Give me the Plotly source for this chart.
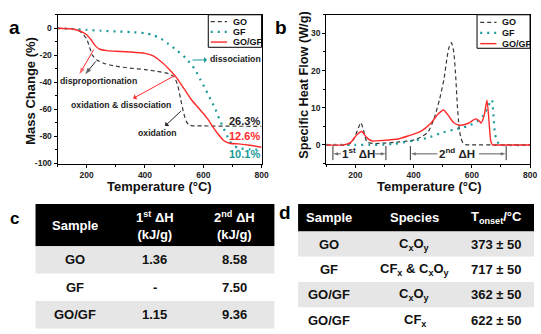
import plotly.graph_objects as go

W, H = 541, 334
FONT = "Arial, Liberation Sans, sans-serif"
C_GO = "#383838"
C_GF = "#1c9a9a"
C_GOGF = "#ff2a2a"

# ---------------- Panel a: TGA mass change ----------------
a_go_T = [100, 150, 175, 190, 200, 210, 220, 235, 260, 300, 350, 400, 440, 480, 500, 512, 522, 532, 542, 552, 565, 600, 700, 800]
a_go_M = [0, -0.5, -2, -5, -8, -14, -20, -23.5, -26, -28, -29.5, -30.5, -31.8, -33.5, -36, -42, -52, -62, -69, -71.6, -72.1, -72.2, -72.4, -72.5]

a_gf_T = [100, 150, 200, 250, 300, 350, 400, 425, 450, 480, 510, 540, 570, 590, 610, 625, 640, 655, 670, 685, 700, 720, 760, 800]
a_gf_M = [0, -0.5, -1.2, -1.8, -2.3, -2.8, -3.6, -5, -7, -11.5, -16.5, -22, -30, -38, -46, -52.5, -59, -67, -74, -81, -86, -88.5, -89.5, -90]

a_gogf_T = [100, 150, 175, 200, 215, 230, 245, 270, 300, 350, 400, 430, 460, 490, 510, 535, 560, 580, 600, 615, 630, 650, 670, 690, 720, 760, 800]
a_gogf_M = [0, -0.5, -1.8, -4.8, -8.5, -13, -15.5, -16.5, -17, -17.5, -18.5, -20.5, -25.5, -32, -37, -45, -53, -58, -63, -67, -72, -78, -83, -85, -85.5, -86.5, -88]

a_yticks = [-100, -80, -60, -40, -20, 0]
a_yticklabels = ["-100", "-80", "-60", "-40", "-20", "0"]

# ---------------- Panel b: DSC heat flow ----------------
b_go_T = [100, 170, 185, 200, 210, 219, 228, 240, 260, 300, 350, 400, 430, 450, 470, 490, 505, 515, 522, 530, 538, 545, 550, 556, 562, 570, 580, 600, 700, 800]
b_go_H = [0, 0, 0.5, 2.5, 4.5, 6, 4, 0.8, 0.4, 0.5, 0.8, 1.3, 2.3, 3.5, 7, 12.5, 18, 23.5, 26.3, 27.5, 25, 18, 11, 5, 2, 0.5, 0.1, 0, 0, 0]

b_gf_T = [100, 200, 250, 300, 336, 403, 448, 494, 539, 584, 618, 641, 658, 669, 675, 680, 692, 700, 800]
b_gf_H = [0, 0, 0, 0.1, 0.3, 1.2, 1.9, 3.2, 4.1, 5, 6.3, 8, 10.7, 12.2, 7.2, 2.8, 0.3, 0, 0]

b_gogf_T = [100, 160, 183, 206, 222, 240, 257, 290, 347, 381, 426, 460, 482, 503, 522, 539, 562, 590, 613, 625, 632, 643, 652, 660, 665, 671, 700, 800]
b_gogf_H = [0, 0, 0.6, 2.8, 3.6, 1.9, 1.05, 1.2, 1.6, 2.4, 3.7, 5.9, 8.1, 9.4, 7.6, 5.9, 5.3, 5.9, 7.0, 6.5, 5.9, 8.1, 12, 5.4, 1.05, 0, 0, 0]

# enthalpy integration windows (degC)
dh1_range = [123, 305]
dh2_range = [389, 718]

series_names = ["GO", "GF", "GO/GF"]
residues = ["26.3%", "12.6%", "10.1%"]

# ---------------- Tables ----------------
tc_header = ["Sample", "1<sup>st</sup> ΔH<br>(kJ/g)", "2<sup>nd</sup> ΔH<br>(kJ/g)"]
tc_sample = ["GO", "GF", "GO/GF"]
tc_dh1 = ["1.36", "-", "1.15"]
tc_dh2 = ["8.58", "7.50", "9.36"]

td_header = ["Sample", "Species", "T<sub>onset</sub>/°C"]
td_sample = ["GO", "GF", "GO/GF", "GO/GF"]
td_species = ["C<sub>x</sub>O<sub>y</sub>", "CF<sub>x</sub> &amp; C<sub>x</sub>O<sub>y</sub>", "C<sub>x</sub>O<sub>y</sub>", "CF<sub>x</sub>"]
td_tonset = ["373 ± 50", "717 ± 50", "362 ± 50", "622 ± 50"]


def px(x):
    return x / W


def py(y):
    return 1 - y / H


styles = {
    "GO": dict(color=C_GO, width=1.2, dash="4px,3px"),
    "GF": dict(color=C_GF, width=2.2, dash="2px,5px"),
    "GO/GF": dict(color=C_GOGF, width=1.4, dash="solid"),
}

fig = go.Figure()
for name, T, M in [("GO", a_go_T, a_go_M), ("GF", a_gf_T, a_gf_M), ("GO/GF", a_gogf_T, a_gogf_M)]:
    fig.add_trace(go.Scatter(x=T, y=M, mode="lines", name=name, line=dict(shape="spline", smoothing=0.6, **styles[name]),
                             xaxis="x", yaxis="y", showlegend=False))
for name, T, Hh in [("GO", b_go_T, b_go_H), ("GF", b_gf_T, b_gf_H), ("GO/GF", b_gogf_T, b_gogf_H)]:
    fig.add_trace(go.Scatter(x=T, y=Hh, mode="lines", name=name, line=dict(shape="spline", smoothing=0.6, **styles[name]),
                             xaxis="x2", yaxis="y2", showlegend=False))

axis_common = dict(showline=True, linecolor="black", linewidth=1, mirror=True, showgrid=False, zeroline=False,
                   ticks="outside", ticklen=3, tickcolor="black",
                   tickfont=dict(family=FONT, size=8.5, color="#222", weight="bold"))

fig.update_layout(
    width=W, height=H, autosize=False, margin=dict(l=0, r=0, t=0, b=0),
    paper_bgcolor="white", plot_bgcolor="white", showlegend=False,
    xaxis=dict(domain=[px(58.3), px(265)], range=[100, 800], dtick=200, tick0=0, anchor="y",
               minor=dict(ticks="outside", ticklen=2, dtick=100, tickcolor="black"), **axis_common),
    yaxis=dict(domain=[py(166), py(15)], range=[-100, 10], tickvals=a_yticks, ticktext=a_yticklabels, anchor="x",
               minor=dict(ticks="outside", ticklen=2, dtick=10, tickcolor="black"), **axis_common),
    xaxis2=dict(domain=[px(330.5), px(537)], range=[100, 800], dtick=200, tick0=0, anchor="y2",
                minor=dict(ticks="outside", ticklen=2, dtick=100, tickcolor="black"), **axis_common),
    yaxis2=dict(domain=[py(166), py(15)], range=[-5, 35], dtick=10, tick0=0, anchor="x2",
                minor=dict(ticks="outside", ticklen=2, dtick=5, tickcolor="black"), **axis_common),
)

ann = []
shapes = []


def ptext(x, y, text, size, color="#111", angle=0, xanchor="center"):
    ann.append(dict(x=px(x), y=py(y), xref="paper", yref="paper", text=text, showarrow=False, textangle=angle,
                    font=dict(family=FONT, size=size, color=color, weight="bold"), xanchor=xanchor, yanchor="middle"))


# panel labels
ptext(15, 28, "a", 19, "black")
ptext(285, 28, "b", 19, "black")
ptext(15, 222, "c", 17, "black")
ptext(289, 216, "d", 19, "black")

# axis titles
ptext(162, 189, "Temperature (°C)", 13)
ptext(435, 189, "Temperature (°C)", 13)
ptext(31.5, 92, "Mass Change (%)", 13, angle=-90)
ptext(308, 87, "Specific Heat Flow (W/g)", 12.7, angle=-90)


def legend_box(x0, y0, x1, y1, rows, lx0, lx1, tx):
    shapes.append(dict(type="rect", xref="paper", yref="paper", x0=px(x0), x1=px(x1), y0=py(y0), y1=py(y1),
                       line=dict(color="black", width=1), fillcolor="white", layer="above"))
    for name, yy in zip(series_names, rows):
        st = styles[name]
        shapes.append(dict(type="line", xref="paper", yref="paper", x0=px(lx0), x1=px(lx1), y0=py(yy), y1=py(yy),
                           line=dict(color=st["color"], width=st["width"], dash=st["dash"]), layer="above"))
        ptext(tx, yy, name, 9, xanchor="left")


legend_box(211, 15, 265, 48, [22, 32.3, 42.7], 213.5, 230, 234)
legend_box(483.3, 15, 537, 49, [22.7, 33.3, 44.3], 486.5, 503, 506.5)


def text_a(x, y, text, color="#222", size=8.7, xanchor="center"):
    ann.append(dict(x=x, y=y, xref="x", yref="y", text=text, showarrow=False, xanchor=xanchor, yanchor="middle",
                    font=dict(family=FONT, size=size, color=color, weight="bold")))


def text_arrow(tx, ty, x, y, text, color):
    # text at (tx, ty); arrow runs from the curve point (x, y) to the text, head at the text side
    ann.append(dict(x=x, y=y, ax=tx, ay=ty, xref="x", yref="y", axref="x", ayref="y", text=text, showarrow=True,
                    arrowside="start", arrowhead=2, arrowsize=1.1, arrowwidth=1, arrowcolor=color,
                    standoff=0, startstandoff=1, font=dict(family=FONT, size=8.7, color="#222", weight="bold")))


def arrow_trace(xs, ys, color, xa="x", ya="y", size=7, width=1):
    fig.add_trace(go.Scatter(x=xs, y=ys, mode="lines+markers", xaxis=xa, yaxis=ya, showlegend=False, hoverinfo="skip",
                             line=dict(color=color, width=width),
                             marker=dict(symbol="arrow", angleref="previous", size=[0, size], color=color,
                                         line=dict(width=0))))


text_a(241, -39, "disproportionation")
text_arrow(316, -57, 501, -35.1, "oxidation &amp; dissociation", C_GOGF)
text_arrow(443, -77.5, 523, -61.3, "oxidation", "#222")
text_arrow(709, -23, 563, -23.5, "dissociation", C_GF)
text_a(800, -68.5, residues[0], color="#222", size=11, xanchor="right")
text_a(800, -80, residues[1], color=C_GOGF, size=11, xanchor="right")
text_a(800, -93, residues[2], color=C_GF, size=11, xanchor="right")

arrow_trace([224, 175], [-15.8, -34.0], C_GOGF)
arrow_trace([231, 195], [-24.5, -34.0], "#222")

# panel b delta-H ranges
for xv in dh1_range + dh2_range:
    shapes.append(dict(type="line", xref="x2", yref="y2", x0=xv, x1=xv, y0=-0.3, y1=-4.1,
                       line=dict(color="#333", width=1)))
arrow_trace([150, dh1_range[0] + 1], [-2.4, -2.4], "#333", "x2", "y2", 5, 0.8)
arrow_trace([268, dh1_range[1] - 1], [-2.4, -2.4], "#333", "x2", "y2", 5, 0.8)
arrow_trace([482, dh2_range[0] + 2], [-2.4, -2.4], "#333", "x2", "y2", 5, 0.8)
arrow_trace([624, dh2_range[1] - 2], [-2.4, -2.4], "#333", "x2", "y2", 5, 0.8)
for xv, txt in [(210, "1<sup>st</sup> ΔH"), (550, "2<sup>nd</sup> ΔH")]:
    ann.append(dict(x=xv, y=-2.3, xref="x2", yref="y2", text=txt, showarrow=False, xanchor="center", yanchor="middle",
                    font=dict(family=FONT, size=11.5, color="#222", weight="bold")))


# ---------------- tables (cells as filled rectangles with text) ----------------
GRAY = "#e6e6e6"


def draw_table(x0, x1, col_w, header, cols, top, head_h, row_h, text_x1=None):
    shapes.append(dict(type="rect", xref="paper", yref="paper", x0=px(x0), x1=px(x1), y0=py(top + head_h), y1=py(top),
                       line=dict(width=0), fillcolor="black", layer="below"))
    centers = []
    acc = x0
    for w in col_w:
        centers.append(acc + w / 2)
        acc += w
    for c, htxt in zip(centers, header):
        ptext(c, top + head_h / 2, htxt, 13, "white")
    nrows = len(cols[0])
    for i in range(nrows):
        y0 = top + head_h + i * row_h
        fill = GRAY if i % 2 == 0 else "white"
        shapes.append(dict(type="rect", xref="paper", yref="paper", x0=px(x0), x1=px(x1),
                           y0=py(min(y0 + row_h, H)), y1=py(y0), line=dict(width=0), fillcolor=fill, layer="below"))
        for c, col in zip(centers, cols):
            ptext(c, y0 + row_h / 2, col[i], 13, "#111")


draw_table(36, 278, [80.67, 80.67, 80.67], tc_header, [tc_sample, tc_dh1, tc_dh2], 207, 43, 27.8)
draw_table(302, 541, [62, 112, 55], td_header, [td_sample, td_species, td_tonset], 207, 28, 25.7)

fig.update_layout(annotations=ann, shapes=shapes)
fig.write_html("out.html")
